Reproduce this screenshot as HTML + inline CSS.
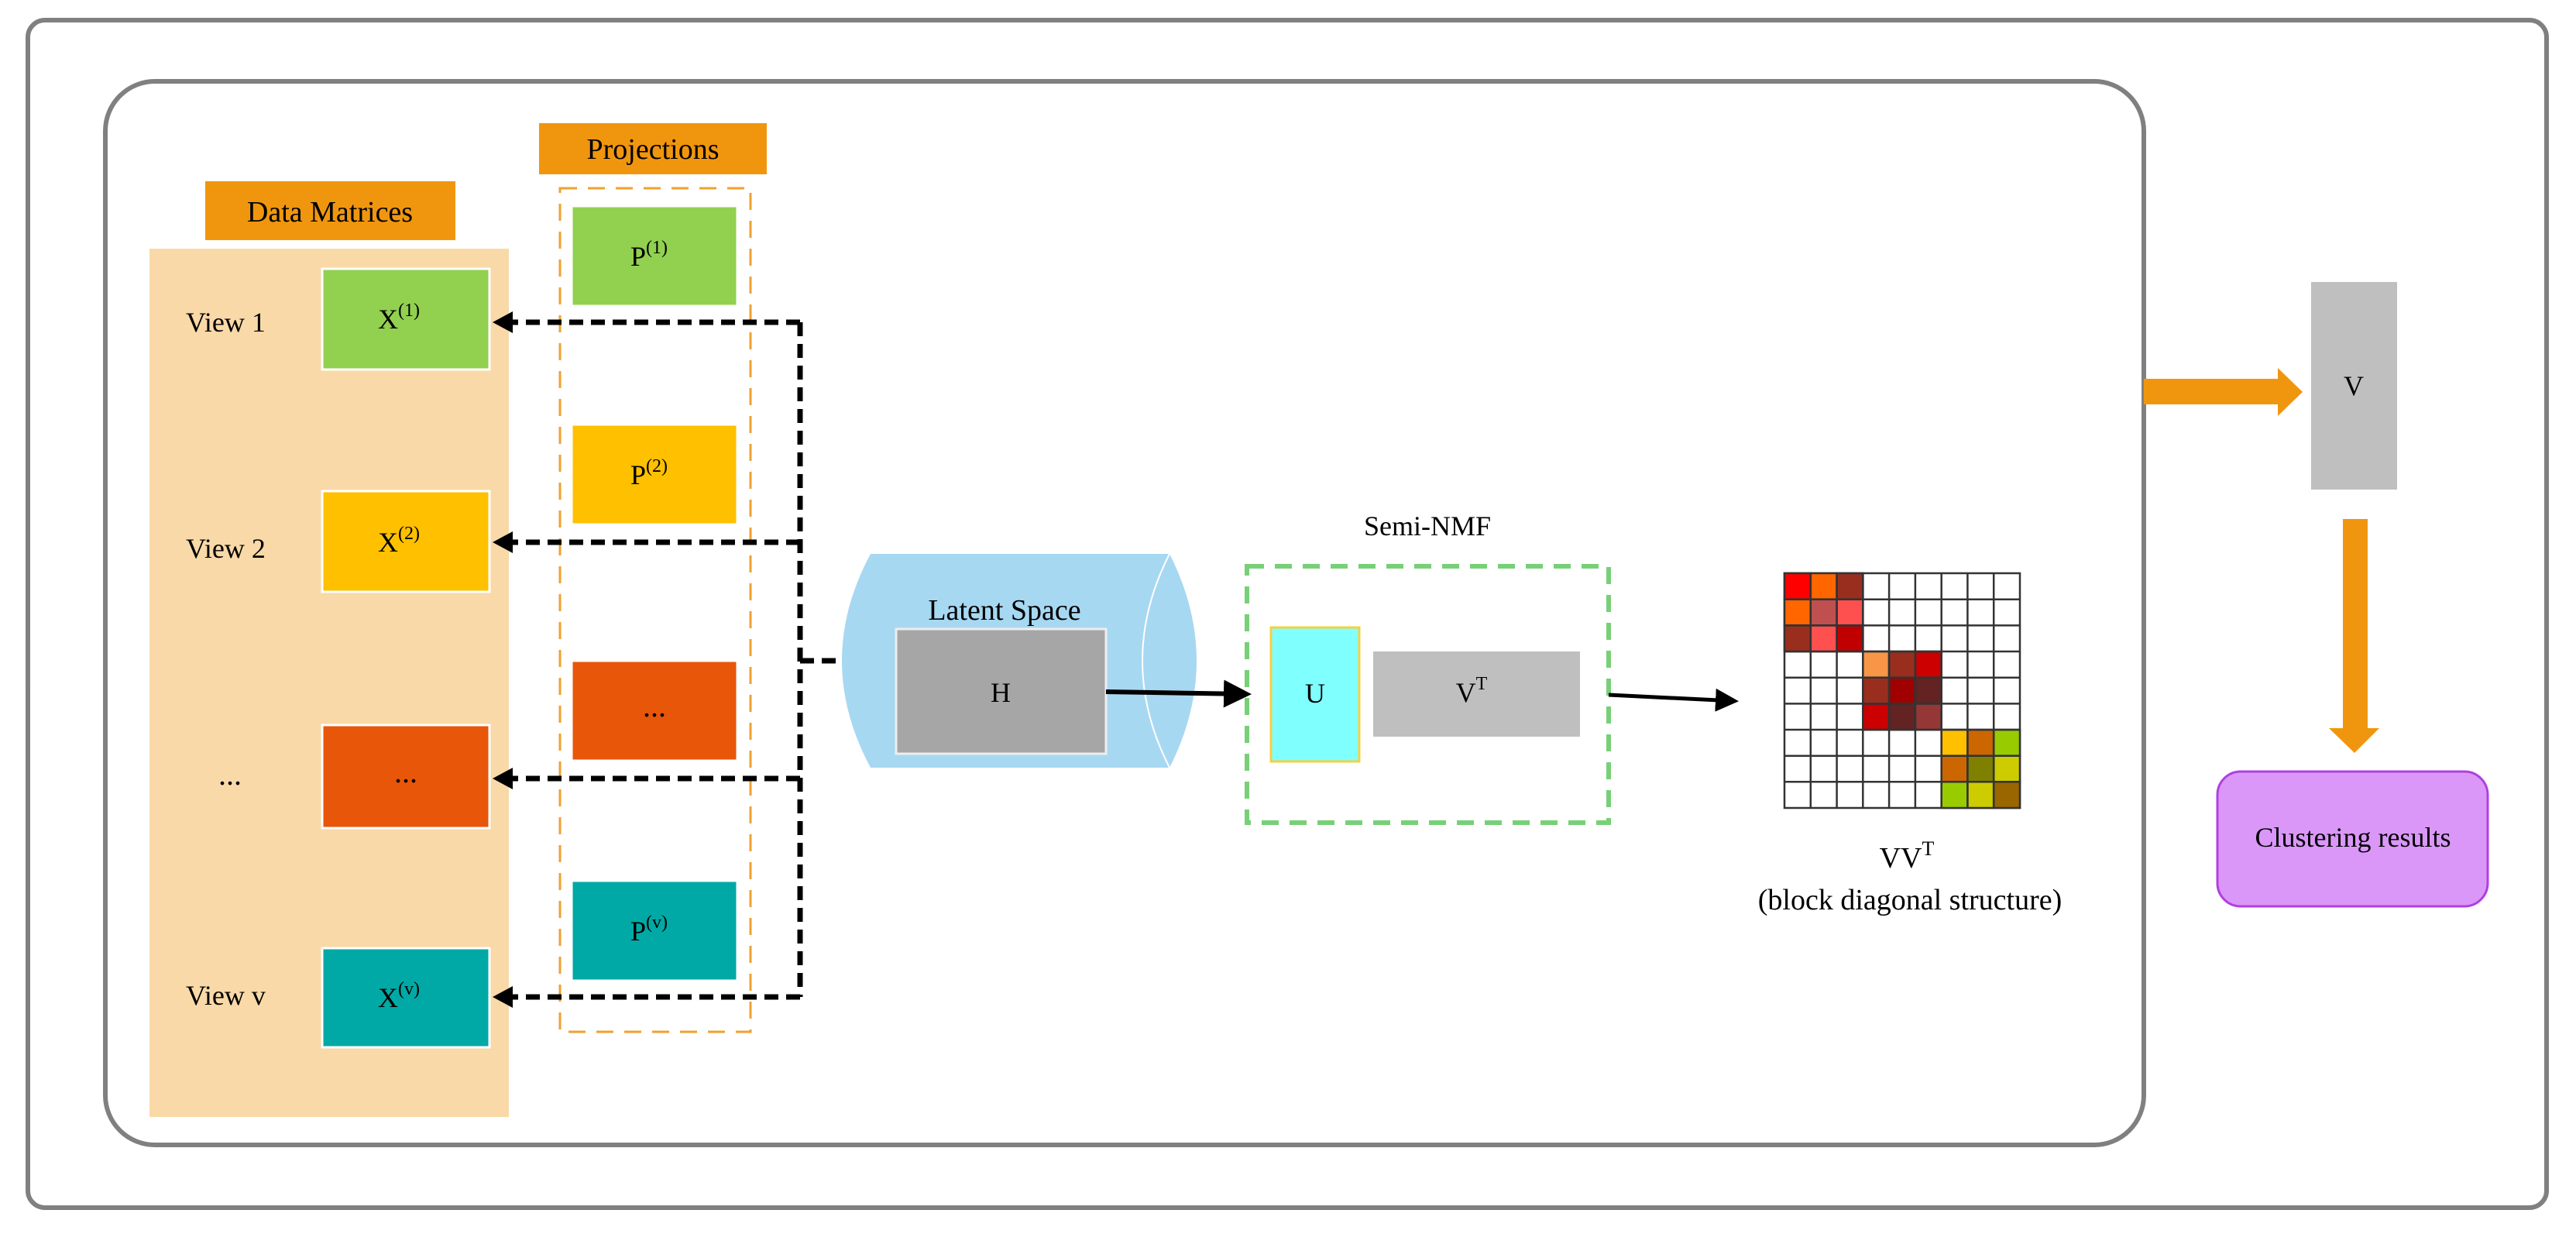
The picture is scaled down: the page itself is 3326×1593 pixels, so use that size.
<!DOCTYPE html>
<html><head><meta charset="utf-8"><style>
html,body{margin:0;padding:0;background:#fff;}
svg{display:block;}
text{font-family:"Liberation Serif",serif;fill:#000;}
</style></head><body>
<svg width="3326" height="1593" viewBox="0 0 3326 1593" xmlns="http://www.w3.org/2000/svg">
<defs>
<marker id="ah" markerWidth="6" markerHeight="6" refX="5" refY="3" orient="auto" markerUnits="strokeWidth">
<path d="M0,0 L6,3 L0,6 Z" fill="#000"/></marker>
</defs>
<rect x="36" y="26" width="3252" height="1533" rx="22" fill="none" stroke="#808080" stroke-width="6"/>
<rect x="136" y="105" width="2632" height="1373" rx="64" fill="none" stroke="#808080" stroke-width="6"/>

<rect x="265" y="234" width="323" height="76" fill="#F0960E"/>
<text x="426" y="286" font-size="38" text-anchor="middle">Data Matrices</text>
<rect x="193" y="321" width="464" height="1121" fill="#F9D9A8"/>
<g font-size="36">
<text x="240" y="428">View 1</text>
<text x="240" y="720">View 2</text>
<text x="282" y="1013" font-size="40">...</text>
<text x="240" y="1297">View v</text>
</g>
<g stroke="#fff" stroke-width="3">
<rect x="416" y="347" width="216" height="130" fill="#92D050"/>
<rect x="416" y="634" width="216" height="130" fill="#FFC000"/>
<rect x="416" y="936" width="216" height="133" fill="#E8560A"/>
<rect x="416" y="1224" width="216" height="128" fill="#00A9A5"/>
</g>
<g font-size="36" text-anchor="middle">
<text x="515" y="424">X<tspan font-size="24" dy="-16">(1)</tspan></text>
<text x="515" y="712">X<tspan font-size="24" dy="-16">(2)</tspan></text>
<text x="524" y="1010" font-size="40">...</text>
<text x="515" y="1300">X<tspan font-size="24" dy="-16">(v)</tspan></text>
</g>

<rect x="696" y="159" width="294" height="66" fill="#F0960E"/>
<text x="843" y="205" font-size="38" text-anchor="middle">Projections</text>
<rect x="723" y="243" width="246" height="1089" fill="none" stroke="#F0A030" stroke-width="3" stroke-dasharray="22,14"/>
<g stroke="#fff" stroke-width="3">
<rect x="738" y="266" width="214" height="129" fill="#92D050"/>
<rect x="738" y="548" width="214" height="129" fill="#FFC000"/>
<rect x="738" y="853" width="214" height="129" fill="#E8560A"/>
<rect x="738" y="1137" width="214" height="129" fill="#00A9A5"/>
</g>
<g font-size="36" text-anchor="middle">
<text x="838" y="343">P<tspan font-size="24" dy="-16">(1)</tspan></text>
<text x="838" y="625">P<tspan font-size="24" dy="-16">(2)</tspan></text>
<text x="845" y="925" font-size="40">...</text>
<text x="838" y="1214">P<tspan font-size="24" dy="-16">(v)</tspan></text>
</g>

<g stroke="#000" stroke-width="7" stroke-dasharray="18,10" fill="none">
<path d="M1033,416 V1287"/>
<path d="M1033,416 H660"/>
<path d="M1033,700 H660"/>
<path d="M1033,1005 H660"/>
<path d="M1033,1287 H660"/>
<path d="M1033,853 H1090"/>
</g>
<g fill="#000">
<path d="M636,416 L662,402 L662,430 Z"/>
<path d="M636,700 L662,686 L662,714 Z"/>
<path d="M636,1005 L662,991 L662,1019 Z"/>
<path d="M636,1287 L662,1273 L662,1301 Z"/>
</g>

<path d="M1124,715 L1510,715 Q1580,853 1510,991 L1124,991 Q1050,853 1124,715 Z" fill="#A7D8F2"/>
<path d="M1510,715 Q1440,853 1510,991" fill="none" stroke="#fff" stroke-width="2"/>
<text x="1297" y="800" font-size="38" text-anchor="middle">Latent Space</text>
<rect x="1157" y="812" width="271" height="161" fill="#A6A6A6" stroke="#eee" stroke-width="3"/>
<text x="1292" y="906" font-size="36" text-anchor="middle">H</text>
<path d="M1428,893 L1610,896" stroke="#000" stroke-width="6" marker-end="url(#ah)"/>

<text x="1843" y="691" font-size="36" text-anchor="middle">Semi-NMF</text>
<rect x="1610" y="731" width="467" height="331" fill="none" stroke="#77D077" stroke-width="6" stroke-dasharray="22,14"/>
<rect x="1641" y="810" width="114" height="173" fill="#80FFFF" stroke="#F5D040" stroke-width="3"/>
<text x="1698" y="907" font-size="36" text-anchor="middle">U</text>
<rect x="1773" y="841" width="267" height="110" fill="#BFBFBF"/>
<text x="1900" y="906" font-size="36" text-anchor="middle">V<tspan font-size="24" dy="-16">T</tspan></text>
<path d="M2077,897 L2240,905" stroke="#000" stroke-width="5" marker-end="url(#ah)"/>

<g stroke="#333" stroke-width="2.5">
<rect x="2304" y="740" width="304" height="303" fill="#fff"/>
<rect x="2304.0" y="740.0" width="33.8" height="33.7" fill="#FF0000"/>
<rect x="2337.8" y="740.0" width="33.8" height="33.7" fill="#FF6600"/>
<rect x="2371.6" y="740.0" width="33.8" height="33.7" fill="#9A2E1E"/>
<rect x="2304.0" y="773.7" width="33.8" height="33.7" fill="#FF6600"/>
<rect x="2337.8" y="773.7" width="33.8" height="33.7" fill="#C05050"/>
<rect x="2371.6" y="773.7" width="33.8" height="33.7" fill="#FF5050"/>
<rect x="2304.0" y="807.4" width="33.8" height="33.7" fill="#9A2E1E"/>
<rect x="2337.8" y="807.4" width="33.8" height="33.7" fill="#FF5050"/>
<rect x="2371.6" y="807.4" width="33.8" height="33.7" fill="#C00000"/>
<rect x="2405.3" y="841.0" width="33.8" height="33.7" fill="#F79646"/>
<rect x="2439.1" y="841.0" width="33.8" height="33.7" fill="#9A2E1E"/>
<rect x="2472.9" y="841.0" width="33.8" height="33.7" fill="#CC0000"/>
<rect x="2405.3" y="874.7" width="33.8" height="33.7" fill="#9A2E1E"/>
<rect x="2439.1" y="874.7" width="33.8" height="33.7" fill="#A00000"/>
<rect x="2472.9" y="874.7" width="33.8" height="33.7" fill="#632323"/>
<rect x="2405.3" y="908.4" width="33.8" height="33.7" fill="#CC0000"/>
<rect x="2439.1" y="908.4" width="33.8" height="33.7" fill="#632323"/>
<rect x="2472.9" y="908.4" width="33.8" height="33.7" fill="#953737"/>
<rect x="2506.7" y="942.0" width="33.8" height="33.7" fill="#FFC000"/>
<rect x="2540.4" y="942.0" width="33.8" height="33.7" fill="#CC6600"/>
<rect x="2574.2" y="942.0" width="33.8" height="33.7" fill="#99CC00"/>
<rect x="2506.7" y="975.7" width="33.8" height="33.7" fill="#CC6600"/>
<rect x="2540.4" y="975.7" width="33.8" height="33.7" fill="#808000"/>
<rect x="2574.2" y="975.7" width="33.8" height="33.7" fill="#CCCC00"/>
<rect x="2506.7" y="1009.3" width="33.8" height="33.7" fill="#99CC00"/>
<rect x="2540.4" y="1009.3" width="33.8" height="33.7" fill="#CCCC00"/>
<rect x="2574.2" y="1009.3" width="33.8" height="33.7" fill="#996600"/>
</g>
<g stroke="#333" stroke-width="2.5">
<path d="M2337.8,740V1043M2371.6,740V1043M2405.3,740V1043M2439.1,740V1043M2472.9,740V1043M2506.7,740V1043M2540.4,740V1043M2574.2,740V1043"/>
<path d="M2304,773.7H2608M2304,807.4H2608M2304,841H2608M2304,874.7H2608M2304,908.4H2608M2304,942H2608M2304,975.7H2608M2304,1009.3H2608"/>
</g>
<text x="2462" y="1120" font-size="38" text-anchor="middle">VV<tspan font-size="26" dy="-16">T</tspan></text>
<text x="2466" y="1174" font-size="38" text-anchor="middle">(block diagonal structure)</text>

<rect x="2984" y="364" width="111" height="268" fill="#BFBFBF"/>
<text x="3039" y="510" font-size="36" text-anchor="middle">V</text>
<path d="M2768,489 H2941 V475 L2973,506 L2941,537 V522 H2768 Z" fill="#F0960E"/>
<path d="M3025,670 H3057 V940 H3072 L3040,972 L3007,940 H3025 Z" fill="#F0960E"/>
<rect x="2863" y="996" width="349" height="174" rx="30" fill="#DA97F8" stroke="#B040E0" stroke-width="3"/>
<text x="3038" y="1093" font-size="36" text-anchor="middle">Clustering results</text>
</svg>
</body></html>
